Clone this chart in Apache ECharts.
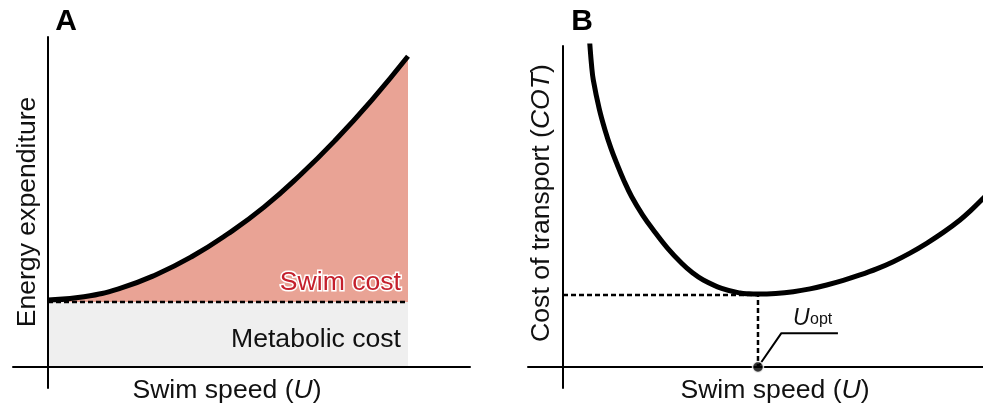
<!DOCTYPE html>
<html>
<head>
<meta charset="utf-8">
<script src="https://cdn.jsdelivr.net/npm/echarts@6/dist/echarts.min.js"></script>
<style>html,body{margin:0;padding:0;background:#fff}#c{width:983px;height:412px}</style>
</head>
<body>
<div id="c"></div>
<script>
// Panel A: energy expenditure vs swim speed (normalised units)
const speedA = [0, 0.1, 0.2, 0.3, 0.4, 0.5, 0.6, 0.7, 0.8, 0.9, 1.0];
const energyA = [1.03, 1.08, 1.21, 1.42, 1.70, 2.05, 2.46, 2.95, 3.50, 4.11, 4.78];
const metabolicCost = 1.0;
const speedRangeA = [0, 1.0];

// Panel B: cost of transport vs swim speed (normalised so U_opt = 1, COT_min = 1)
const speedB = [0.1308, 0.1385, 0.1467, 0.1554, 0.1856, 0.2154, 0.2456, 0.2754, 0.3138, 0.3523,
                0.4077, 0.4631, 0.5359, 0.6087, 0.6641, 0.7195, 0.8138, 0.9077, 0.9538, 1.0,
                1.0908, 1.1810, 1.2667, 1.3523, 1.4374, 1.5231, 1.6087, 1.6938, 1.7795, 1.8651,
                1.9503, 2.0359, 2.0959, 2.1554, 2.19];
const cotB   = [4.750, 4.449, 4.183, 3.986, 3.589, 3.292, 3.039, 2.829, 2.581, 2.365,
                2.114, 1.903, 1.651, 1.440, 1.308, 1.208, 1.092, 1.028, 1.017, 1.014,
                1.022, 1.046, 1.085, 1.139, 1.203, 1.278, 1.363, 1.463, 1.582, 1.718,
                1.869, 2.042, 2.185, 2.343, 2.44];
const uOpt = 1.0;
const cotMin = 1.0;
const leaderPoints = [[1.0, 0], [1.12, 0.47], [1.41, 0.47]];

// labels
const panelLabels = ['A', 'B'];
const xTitle = 'Swim speed';
const yTitleA = 'Energy expenditure';
const yTitleB = 'Cost of transport';
const swimCostLabel = 'Swim cost';
const metabolicLabel = 'Metabolic cost';

const FF = '"Liberation Sans", Arial, Helvetica, sans-serif';
const FS = 26.6;
const RED = '#e9a395';
const GREY = '#efefef';

const chart = echarts.init(document.getElementById('c'), null, {renderer: 'canvas'});

function axisCommon(extra) {
  return Object.assign({
    type: 'value', z: 10,
    axisLine: {show: true, onZero: true, lineStyle: {color: '#000', width: 2}},
    axisTick: {show: false}, axisLabel: {show: false}, splitLine: {show: false}
  }, extra);
}

function txt(x, y, text, opts) {
  return {
    type: 'text', x: x, y: y, z: 100, rotation: opts.rotation || 0,
    style: Object.assign({
      text: text, fill: '#111', fontSize: FS, fontFamily: FF,
      align: opts.align || 'center', verticalAlign: 'middle',
      textAlign: opts.align || 'center', textVerticalAlign: 'middle'
    }, opts.style || {})
  };
}

const richItalic = {i: {fontStyle: 'italic', fontSize: FS, fontFamily: FF, fill: '#111'}};

const option = {
  animation: false,
  backgroundColor: '#fff',
  grid: [
    {left: 13, top: 37, width: 457, height: 351},
    {left: 528, top: 46, width: 455, height: 342}
  ],
  xAxis: [
    axisCommon({gridIndex: 0, min: -0.0972, max: 1.1722}),
    axisCommon({gridIndex: 1, min: -0.1795, max: 2.154})
  ],
  yAxis: [
    axisCommon({gridIndex: 0, min: -0.323, max: 5.077}),
    axisCommon({gridIndex: 1, min: -0.2917, max: 4.458})
  ],
  series: [
    { // swim cost (red area under curve)
      type: 'line', xAxisIndex: 0, yAxisIndex: 0, z: 1, smooth: true, showSymbol: false, silent: true,
      data: speedA.map((u, i) => [u, energyA[i]]),
      lineStyle: {width: 0}, areaStyle: {color: RED, opacity: 1}
    },
    { // metabolic cost (grey area) with dashed boundary
      type: 'line', xAxisIndex: 0, yAxisIndex: 0, z: 2, showSymbol: false, silent: true,
      data: speedRangeA.map(u => [u, metabolicCost]),
      lineStyle: {color: '#000', width: 2.5, type: [5, 3]}, areaStyle: {color: GREY, opacity: 1}
    },
    { // energy curve
      type: 'line', xAxisIndex: 0, yAxisIndex: 0, z: 5, smooth: true, showSymbol: false, silent: true,
      data: speedA.map((u, i) => [u, energyA[i]]),
      lineStyle: {color: '#000', width: 5}
    },
    { // COT curve
      type: 'line', xAxisIndex: 1, yAxisIndex: 1, z: 5, smooth: 0.4, showSymbol: false, silent: true, clip: true,
      data: speedB.map((u, i) => [u, cotB[i]]),
      lineStyle: {color: '#000', width: 5}
    },
    { // dashed guides to U_opt
      type: 'line', xAxisIndex: 1, yAxisIndex: 1, z: 3, showSymbol: false, silent: true,
      data: [[0, cotMin], [uOpt, cotMin], [uOpt, 0]],
      lineStyle: {color: '#000', width: 2.5, type: [5, 3]}
    },
    { // leader line
      type: 'line', xAxisIndex: 1, yAxisIndex: 1, z: 4, showSymbol: false, silent: true,
      data: leaderPoints,
      lineStyle: {color: '#000', width: 2}
    },
    { // U_opt dot
      type: 'scatter', xAxisIndex: 1, yAxisIndex: 1, z: 20, silent: true,
      data: [[uOpt, 0]], symbolSize: 11,
      itemStyle: {color: '#000', borderColor: '#fff', borderWidth: 1.5}
    }
  ],
  graphic: [
    txt(66, 22, panelLabels[0], {style: {fontWeight: 'bold', fontSize: 30, fill: '#000'}}),
    txt(582, 22, panelLabels[1], {style: {fontWeight: 'bold', fontSize: 30, fill: '#000'}}),
    txt(227, 391, '', {style: {text: xTitle + ' ({i|U})', rich: richItalic}}),
    txt(775, 391, '', {style: {text: xTitle + ' ({i|U})', rich: richItalic}}),
    txt(28, 212, yTitleA, {rotation: Math.PI / 2}),
    txt(542, 203, '', {rotation: Math.PI / 2, style: {text: yTitleB + ' ({i|COT})', rich: richItalic}}),
    txt(401, 283, swimCostLabel, {align: 'right', style: {fill: '#c4202c', stroke: '#fff', lineWidth: 3}}),
    txt(401, 340, metabolicLabel, {align: 'right', style: {stroke: GREY, lineWidth: 3}}),
    txt(793, 319, 'U', {align: 'left', style: {fontStyle: 'italic', fontSize: 23, stroke: '#fff', lineWidth: 3}}),
    txt(810, 320, 'opt', {align: 'left', style: {fontSize: 16, stroke: '#fff', lineWidth: 3}})
  ]
};
chart.setOption(option);
</script>
</body>
</html>
